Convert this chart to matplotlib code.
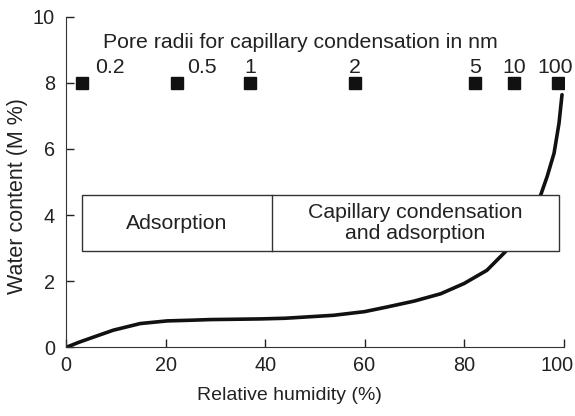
import numpy as np
import matplotlib.pyplot as plt
import matplotlib.transforms as mtransforms
from matplotlib.patches import Rectangle

plt.rcParams['font.family'] = ['Liberation Sans', 'DejaVu Sans']

# sorption curve
rh = [0, 2.5, 5.5, 9.5, 14.9, 20.3, 25, 29, 34, 39, 44, 48.4, 53.8, 60, 64.5, 70,
      75.3, 80, 84.6, 88.3, 90.5, 92.5, 94, 95.4, 96.7, 98.1, 99.1, 99.7]
wc = [0, 0.15, 0.31, 0.52, 0.72, 0.80, 0.82, 0.84, 0.85, 0.86, 0.88, 0.92, 0.97, 1.08, 1.22, 1.40,
      1.62, 1.93, 2.33, 2.89, 3.30, 3.75, 4.15, 4.60, 5.16, 5.87, 6.78, 7.64]

# pore radius markers
pore_x = [3.2, 22.3, 37, 58, 82.3, 90.1, 98.8]
pore_lab = ['0.2', '0.5', '1', '2', '5', '10', '100']
lab_x = [8.8, 27.3, 37, 58, 82.3, 90.1, 98.4]

fs_in = 15.3
fs_tick = 14.3
fig, ax = plt.subplots(figsize=(5.75, 4.16), dpi=100)
fig.subplots_adjust(left=0.115, right=0.98, bottom=0.165, top=0.96)

ax.plot(rh, wc, color='#111111', lw=2.6, solid_capstyle='round', solid_joinstyle='round')
ax.plot(pore_x, [8] * len(pore_x), 's', color='#111111', ms=8)
for x, t in zip(lab_x, pore_lab):
    ax.text(x, 8.3, t, ha='center', va='baseline', fontsize=fs_in, color='#222222')
ax.text(47, 9.06, 'Pore radii for capillary condensation in nm', ha='center', va='baseline',
        fontsize=fs_in, color='#222222')

# region box
ax.add_patch(Rectangle((3.2, 2.9), 95.8, 1.7, fill=True, fc='white', lw=1.0, ec='#333333', zorder=3))
ax.plot([41.4, 41.4], [2.9, 4.6], color='#333333', lw=1.0, zorder=4)
ax.text(22.3, 3.75, 'Adsorption', ha='center', va='center', fontsize=fs_in, color='#222222', zorder=5)
ax.text(70.2, 3.75, 'Capillary condensation\nand adsorption', ha='center', va='center',
        fontsize=fs_in, color='#222222', linespacing=1.15, zorder=5)

ax.set_xlim(0, 100)
ax.set_ylim(0, 10)
ax.set_xticks(range(0, 101, 20))
ax.set_yticks(range(0, 11, 2))
ax.tick_params(direction='in', length=6, width=1, labelsize=fs_tick, colors='#222222')
ax.tick_params(axis='x', pad=6)
ax.tick_params(axis='y', pad=8)
for s in ['top', 'right']:
    ax.spines[s].set_visible(False)
for s in ['left', 'bottom']:
    ax.spines[s].set_color('#333333')
ax.set_xlabel('Relative humidity (%)', fontsize=14, color='#222222', va='center')
ax.set_ylabel('Water content (M %)', fontsize=15.5, color='#222222', va='center')
ax.xaxis.set_label_coords(0.449, -0.145)
ax.yaxis.set_label_coords(-0.097, 0.457)

# last x tick label sits a little left of its tick, as in the original
last = ax.get_xticklabels()[-1]
last.set_transform(last.get_transform() + mtransforms.ScaledTranslation(-6 / 100, 0, fig.dpi_scale_trans))

fig.savefig('out.png')
